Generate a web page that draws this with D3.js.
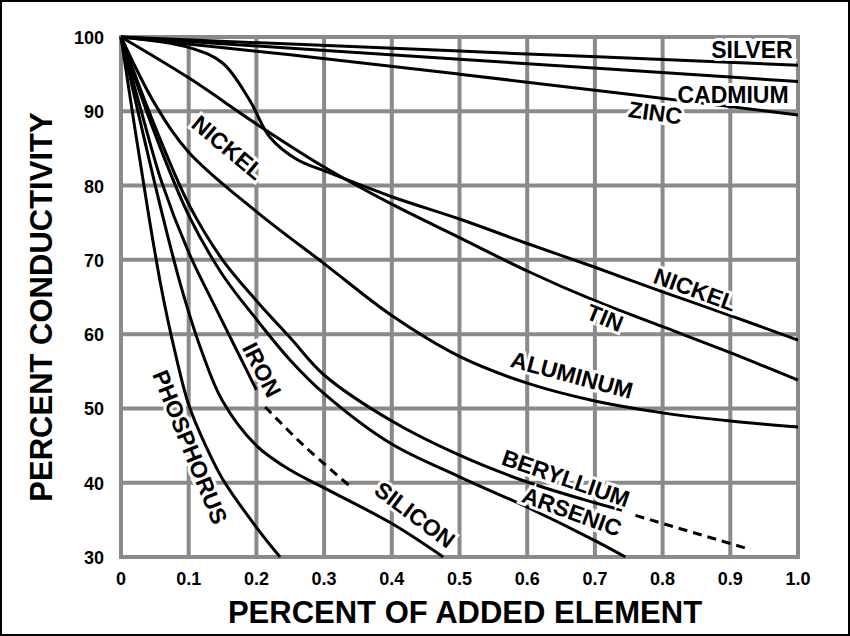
<!DOCTYPE html>
<html><head><meta charset="utf-8">
<script src="https://cdn.jsdelivr.net/npm/d3@7"></script>
<style>body{margin:0;background:#fff}</style>
</head><body>
<script>
// tick labels
var xTicks = [0, 0.1, 0.2, 0.3, 0.4, 0.5, 0.6, 0.7, 0.8, 0.9, 1.0];
var yTicks = [30, 40, 50, 60, 70, 80, 90, 100];

// curves: [percent added, percent conductivity]
var silver = [[0,100],[0.5,98.1],[1.0,96.2]];
var cadmium = [[0,100],[0.5,97],[1.0,94]];
var zinc = [[0,100],[0.25,97.6],[0.5,95],[0.75,92.3],[1.0,89.5]];
var nickel = [[0,100],[0.1,98.6],[0.15,96.5],[0.19,91.5],[0.22,86.5],[0.26,83.5],[0.3,82],[0.4,78.5],[0.5,75.5],[0.6,72.2],[0.7,69],[0.8,65.7],[0.9,62.5],[1.0,59.2]];
var tin = [[0,100],[0.1,94.5],[0.2,88.3],[0.3,82.5],[0.4,77.5],[0.5,73],[0.6,68.5],[0.7,64.5],[0.8,61],[0.9,57.5],[1.0,53.8]];
var aluminum = [[0,100],[0.05,91],[0.1,84.5],[0.2,76.5],[0.3,69.5],[0.4,62.5],[0.5,57],[0.6,53.4],[0.7,51],[0.8,49.4],[0.9,48.3],[1.0,47.5]];
var beryllium = [[0,100],[0.05,88],[0.1,77.5],[0.15,70],[0.2,64.5],[0.25,59.5],[0.3,54.5],[0.4,48.3],[0.5,43.7],[0.6,40.1],[0.7,37.3],[0.74,36.3]];
var berylliumDash = [[0.76,35.6],[0.93,31]];
var arsenic = [[0,100],[0.05,87],[0.1,76],[0.15,68],[0.2,62],[0.25,56.5],[0.3,52],[0.4,45.2],[0.5,40.8],[0.6,36.7],[0.7,32.2],[0.745,30]];
var iron = [[0,100],[0.03,90],[0.06,80.5],[0.1,71],[0.14,63.5],[0.17,58],[0.2,52.5]];
var ironDash = [[0.213,50.2],[0.27,45],[0.34,39.4]];
var silicon = [[0,100],[0.03,88],[0.06,76.5],[0.09,66],[0.12,57.5],[0.15,51],[0.2,45],[0.25,41.7],[0.3,39.3],[0.4,34.5],[0.476,30]];
var phosphorus = [[0,100],[0.02,88],[0.04,76.5],[0.06,66],[0.08,57.5],[0.1,50.5],[0.125,45],[0.15,40.5],[0.2,34],[0.235,30]];

// labels: text, x, y (data units), rotation
var labels = [
  ["SILVER", 0.932, 98.2, 0], ["CADMIUM", 0.904, 92.2, 0], ["ZINC", 0.789, 89.8, 8],
  ["NICKEL", 0.158, 85.1, 40], ["NICKEL", 0.848, 66, 20], ["TIN", 0.715, 62.2, 22],
  ["ALUMINUM", 0.666, 54.5, 15], ["BERYLLIUM", 0.657, 40.6, 19], ["ARSENIC", 0.666, 36.1, 20],
  ["SILICON", 0.434, 35.7, 37], ["IRON", 0.208, 55.2, 63], ["PHOSPHORUS", 0.102, 44.8, 68]
];

var W = 850, H = 636;
var svg = d3.select("body").append("svg").attr("width", W).attr("height", H);
svg.append("rect").attr("x", 1).attr("y", 1).attr("width", W - 2).attr("height", H - 2)
  .attr("fill", "#fff").attr("stroke", "#000").attr("stroke-width", 2);

var x = d3.scaleLinear().domain([0, 1]).range([121, 798]);
var y = d3.scaleLinear().domain([30, 100]).range([557, 37]);

var grid = svg.append("g").attr("stroke", "#8a8a8a").attr("stroke-width", 4);
grid.selectAll(".gx").data(xTicks).enter().append("line")
  .attr("x1", d => x(d)).attr("x2", d => x(d)).attr("y1", y(100) - 2).attr("y2", y(30) + 2);
grid.selectAll(".gy").data(yTicks).enter().append("line")
  .attr("y1", d => y(d)).attr("y2", d => y(d)).attr("x1", x(0) - 2).attr("x2", x(1) + 2);

var font = "Liberation Sans, Arial, sans-serif";
svg.append("g").selectAll("text").data(xTicks).enter().append("text")
  .attr("x", d => x(d)).attr("y", 585).attr("text-anchor", "middle")
  .attr("font-family", font).attr("font-weight", "bold").attr("font-size", 18)
  .text(d => d === 0 ? "0" : d3.format(".1f")(d));
svg.append("g").selectAll("text").data(yTicks).enter().append("text")
  .attr("x", 104).attr("y", d => y(d) + 7).attr("text-anchor", "end")
  .attr("font-family", font).attr("font-weight", "bold").attr("font-size", 18)
  .text(d => d);

svg.append("text").attr("x", 465).attr("y", 623).attr("text-anchor", "middle")
  .attr("font-family", font).attr("font-weight", "bold").attr("font-size", 31)
  .text("PERCENT OF ADDED ELEMENT");
svg.append("text").attr("transform", "translate(52,307) rotate(-90)").attr("text-anchor", "middle")
  .attr("font-family", font).attr("font-weight", "bold").attr("font-size", 31)
  .text("PERCENT CONDUCTIVITY");

var line = d3.line().x(d => x(d[0])).y(d => y(d[1])).curve(d3.curveCatmullRom.alpha(0.5));
var solid = [silver, cadmium, zinc, nickel, tin, aluminum, beryllium, arsenic, iron, silicon, phosphorus];
svg.append("g").selectAll("path").data(solid).enter().append("path")
  .attr("d", line).attr("fill", "none").attr("stroke", "#000").attr("stroke-width", 3);
svg.append("g").selectAll("path").data([berylliumDash, ironDash]).enter().append("path")
  .attr("d", line).attr("fill", "none").attr("stroke", "#000").attr("stroke-width", 3)
  .attr("stroke-dasharray", "9,6");

svg.append("g").selectAll("text").data(labels).enter().append("text")
  .attr("transform", d => "translate(" + x(d[1]) + "," + y(d[2]) + ") rotate(" + d[3] + ")")
  .attr("text-anchor", "middle").attr("dy", "0.35em")
  .attr("font-family", font).attr("font-weight", "bold").attr("font-size", 23)
  .attr("stroke", "#fff").attr("stroke-width", 6).attr("paint-order", "stroke")
  .attr("fill", "#000").text(d => d[0]);
</script>
</body></html>
